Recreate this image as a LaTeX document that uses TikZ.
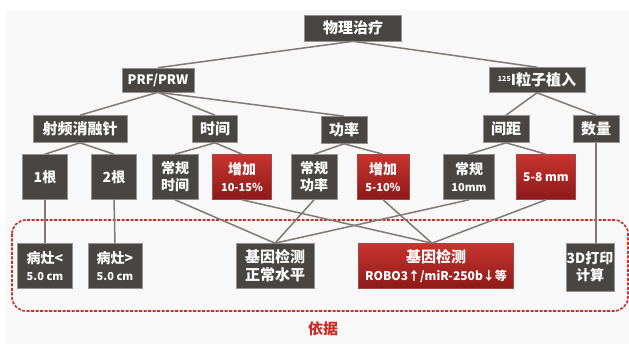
\documentclass[tikz,border=0pt]{standalone}
\usepackage{fontspec}
\setmainfont{Noto Sans CJK SC}
\definecolor{boxdark}{RGB}{72,69,67}
\definecolor{boxedge}{RGB}{150,146,142}
\definecolor{redtop}{RGB}{200,52,46}
\definecolor{redbot}{RGB}{140,26,26}
\definecolor{linkc}{RGB}{128,121,117}
\definecolor{frame}{RGB}{205,45,40}
\definecolor{bg}{RGB}{248,248,248}
\tikzset{
  base/.style={text=white, inner sep=0pt, align=center, font=\bfseries\fontsize{14}{17}\selectfont},
  dk/.style={base, fill=boxdark, draw=boxedge, line width=0.6pt},
  rd/.style={base, top color=redtop, bottom color=redbot, draw=redbot!80, line width=0.6pt},
  sm/.style={font=\bfseries\fontsize{11}{13}\selectfont},
  link/.style={draw=linkc, line width=1.5pt},
}
\begin{document}
\begin{tikzpicture}[x=1pt,y=-1pt]
\useasboundingbox (0,0) rectangle (629,344);
\fill[bg] (6,10) rectangle (629,344);
% dashed frame
\draw[frame, line width=1.6pt, dash pattern=on 3pt off 1.5pt, rounded corners=14pt] (12,220) rectangle (628,311);
% level 0
\node[dk, minimum width=97pt, minimum height=26pt, font=\bfseries\fontsize{15}{17}\selectfont] (phys) at (353,28) {物理治疗};
% level 1
\node[dk, minimum width=72pt, minimum height=24pt, font=\bfseries\fontsize{13}{15}\selectfont] (prf) at (158,80) {PRF/PRW};
\node[dk, minimum width=96pt, minimum height=25pt, font=\bfseries\fontsize{15}{17}\selectfont] (iod) at (537,80) {\raisebox{4pt}{\fontsize{7}{7}\selectfont 125}I粒子植入};
% level 2
\node[dk, minimum width=94pt, minimum height=27pt, font=\bfseries\fontsize{15}{17}\selectfont] (rf) at (80,129) {射频消融针};
\node[dk, minimum width=45pt, minimum height=27pt, font=\bfseries\fontsize{15}{17}\selectfont] (sj) at (215,129) {时间};
\node[dk, minimum width=46pt, minimum height=27pt, font=\bfseries\fontsize{15}{17}\selectfont] (gl) at (344,130) {功率};
\node[dk, minimum width=46pt, minimum height=27pt, font=\bfseries\fontsize{15}{17}\selectfont] (jj) at (506,129) {间距};
\node[dk, minimum width=46pt, minimum height=27pt, font=\bfseries\fontsize{15}{17}\selectfont] (sl) at (596,129) {数量};
% level 3
\node[dk, minimum width=45pt, minimum height=45pt] (n1) at (45,177) {1根};
\node[dk, minimum width=45pt, minimum height=45pt] (n2) at (114,177) {2根};
\node[dk, minimum width=46pt, minimum height=45pt] (cgsj) at (175,177) {常规\\时间};
\node[rd, minimum width=59pt, minimum height=45pt] (zj1) at (242,177) {增加\\{\fontsize{11}{13}\selectfont 10-15\%}};
\node[dk, minimum width=46pt, minimum height=45pt] (cggl) at (314,177) {常规\\功率};
\node[rd, minimum width=52pt, minimum height=45pt] (zj2) at (383,177) {增加\\{\fontsize{11}{13}\selectfont 5-10\%}};
\node[dk, minimum width=51pt, minimum height=45pt] (cg10) at (469,177) {常规\\{\fontsize{11}{13}\selectfont 10mm}};
\node[rd, minimum width=59pt, minimum height=45pt, font=\bfseries\fontsize{12}{14}\selectfont] (mm58) at (546,177) {5-8 mm};
% bottom row
\node[dk, minimum width=55pt, minimum height=45pt] (b1) at (45,266) {病灶<\\{\fontsize{11}{13}\selectfont 5.0 cm}};
\node[dk, minimum width=54pt, minimum height=45pt] (b2) at (115,266) {病灶>\\{\fontsize{11}{13}\selectfont 5.0 cm}};
\node[dk, minimum width=78pt, minimum height=45pt, font=\bfseries\fontsize{15}{18}\selectfont] (ga) at (275,266) {基因检测\\正常水平};
\node[rd, minimum width=155pt, minimum height=45pt, font=\bfseries\fontsize{15}{18}\selectfont] (gb) at (436,266) {基因检测\\{\fontsize{12}{14}\selectfont ROBO3↑/miR-250b↓等}};
\node[dk, minimum width=48pt, minimum height=48pt] (d3) at (590,267) {3D打印\\计算};
% label
\node[text=frame, font=\bfseries\fontsize{15}{17}\selectfont, inner sep=0pt] (yj) at (323,329) {依据};
% connectors
\draw[link] (phys.south) -- (prf.north);
\draw[link] (phys.south) -- (iod.north);
\draw[link] (prf.south) -- (rf.north);
\draw[link] (prf.south) -- (sj.north);
\draw[link] (prf.south) -- (gl.north);
\draw[link] (iod.south) -- (jj.north);
\draw[link] (iod.south) -- (sl.north);
\draw[link] (rf.south) -- (n1.north);
\draw[link] (rf.south) -- (n2.north);
\draw[link] (sj.south) -- (cgsj.north);
\draw[link] (sj.south) -- (zj1.north);
\draw[link] (gl.south) -- (cggl.north);
\draw[link] (gl.south) -- (zj2.north);
\draw[link] (jj.south) -- (cg10.north);
\draw[link] (jj.south) -- (mm58.north);
\draw[link] (n1.south) -- (b1.north);
\draw[link] (n2.south) -- (b2.north);
\draw[link] (sl.south) -- (sl.south |- d3.north);
\draw[link] (cgsj.south) -- (ga.north);
\draw[link] (cggl.south) -- (ga.north);
\draw[link] (cg10.south) -- (ga.north);
\draw[link] (zj1.south) -- ([xshift=-4pt]gb.north);
\draw[link] (zj2.south) -- ([xshift=-4pt]gb.north);
\draw[link] (mm58.south) -- ([xshift=-4pt]gb.north);
\end{tikzpicture}
\end{document}
